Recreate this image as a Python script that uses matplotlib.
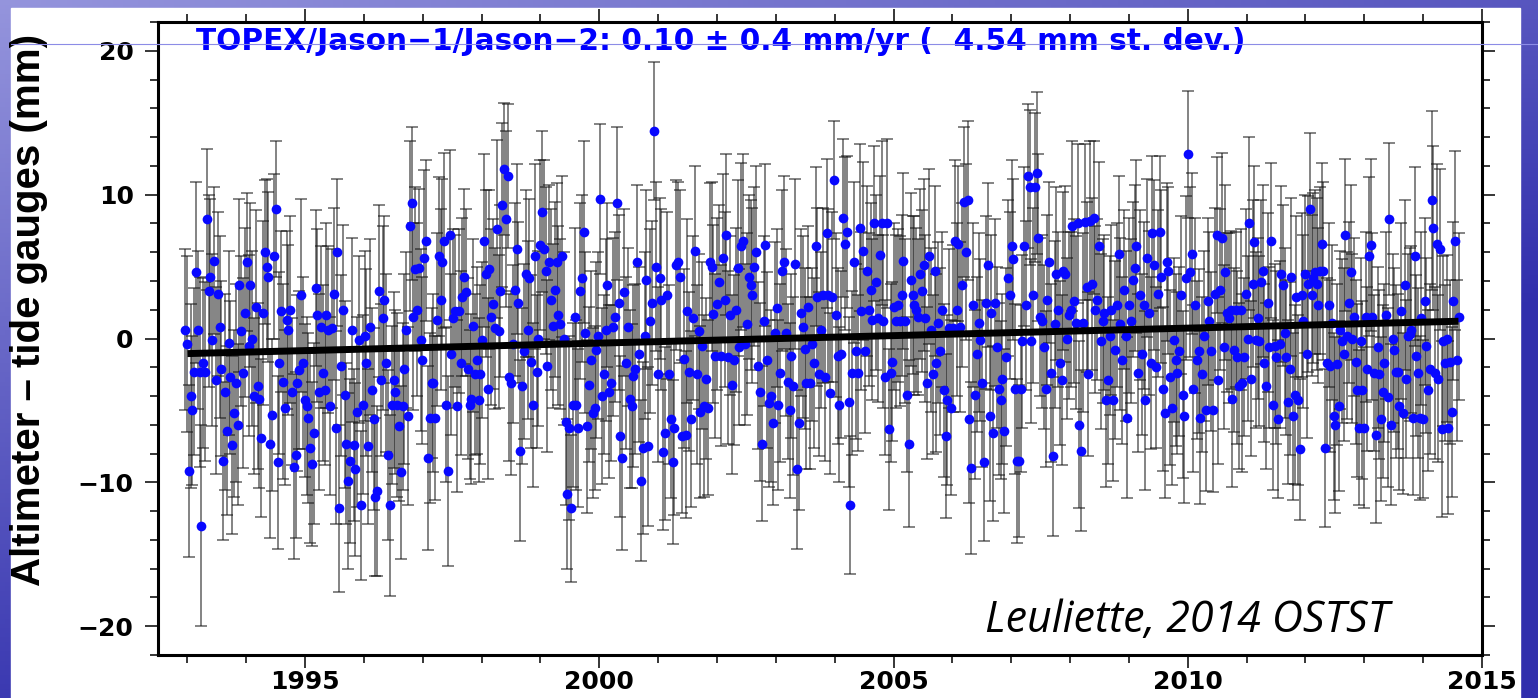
import numpy as np
import matplotlib
matplotlib.use('Agg')
import matplotlib.pyplot as plt
from matplotlib.patches import Rectangle
from matplotlib.lines import Line2D
from matplotlib.ticker import MultipleLocator

# altimeter minus tide gauge differences (mm) in six time blocks
seg_edges = [1992.96, 1996.41, 1999.98, 2003.55, 2007.13, 2010.70, 2014.63]

seg1_mm = [0.6, -0.4, -9.2, -4.0, -5.0, -2.3, 4.6, 0.6, -2.3, -13.0,
           -1.7, -2.3, 8.3, 3.3, 4.3, -0.1, 5.4, -2.9, 3.1, 0.8,
           -2.1, -8.5, -3.7, -6.4, -0.3, -2.7, -7.4, -5.2, -3.1, -6.0,
           3.7, 0.5, -2.4, 1.8, 5.3, -0.5, 3.7, 0.0, -4.0, 2.2,
           -3.3, -4.2, -6.9, 1.8, 6.0, 5.0, 4.3, -7.3, -5.3, 5.7,
           9.0, -8.6, -1.7, 1.9, -3.0, -4.8, 1.3, 0.6, 2.0, -3.7,
           -8.9, -8.1, -3.1, -2.2, 3.0, -1.7, -4.3, -4.7, -5.5, -7.6,
           -8.7, -6.6, 3.5, 1.6, -3.7, 0.8, -2.4, -3.6, 1.6, 0.6,
           -4.7, 0.7, 3.1, -6.2, 6.0, -11.8, -1.9, 2.0, -3.9, -7.3,
           -9.9, -8.5, 0.6, -7.4, -9.1, -5.1, -0.1, -11.6, -4.6, 0.2,
           -1.7, -7.5, 0.8, -3.6, -5.6, -11.0, -10.6, 3.3, -2.9, 1.4,
           2.7, -1.7]
seg2_mm = [-8.1, -11.6, -4.6, -2.9, -3.7, -4.6, -6.1, -9.3, -4.7, -2.1,
           0.6, -5.4, 7.8, 9.4, 1.5, 4.8, 2.0, 4.9, -0.1, -1.5,
           5.6, 6.8, -8.3, -5.5, -3.1, -3.1, -5.5, 1.3, 5.7, 2.7,
           5.3, 6.8, -4.6, -9.2, 7.2, -1.1, 1.4, 1.9, -4.7, 1.9,
           -1.7, 2.9, 4.3, 3.2, -2.1, -4.6, -4.2, 0.9, -2.5, -1.5,
           -4.3, -2.5, -0.1, 6.8, 4.5, -3.5, 4.8, 1.5, 2.4, 0.7,
           7.6, 0.5, 3.3, 9.3, 11.8, 8.3, 11.3, -2.7, -3.1, -0.4,
           3.4, 6.2, 2.5, -7.8, -3.3, -0.9, 4.5, 0.6, 4.2, -1.6,
           -4.6, 5.7, -2.3, 0.0, 6.5, 8.8, 6.2, 4.7, -1.9, 5.3,
           2.7, 0.9, 3.4, 5.3, 1.6, 1.0, 5.7, 0.0, -5.8, -10.8,
           -6.2, -11.8, -4.6, 1.5, -4.6, -6.2, 3.3, 4.2, 7.4, 0.4,
           -6.1, -3.2, -1.5, -5.2, -4.8, -0.8]
seg3_mm = [0.2, 9.7, -4.0, -2.5, 0.6, 3.7, -3.7, -3.1, 0.8, 1.5,
           9.4, 2.5, -6.8, -8.3, 3.2, -1.7, 0.8, -4.2, -4.7, -2.6,
           -2.1, 5.3, -1.1, -9.9, -7.6, 0.2, 4.1, -7.5, 1.2, 2.5,
           14.4, 5.0, -2.5, 4.2, 2.7, -7.9, -6.6, 3.0, -2.5, -5.6,
           -8.6, -6.2, 5.1, 5.3, 4.3, -6.8, -1.4, -6.7, 1.9, -2.3,
           -5.6, 1.4, 6.1, -2.5, 0.5, -5.1, -0.5, -4.7, -2.8, -4.8,
           5.3, 5.0, 1.7, -1.2, 2.4, 3.9, -1.2, 5.6, 2.7, 7.2,
           -1.3, 1.6, -3.2, -1.5, 2.0, 4.9, -0.6, 6.4, 6.8, -0.4,
           1.0, 4.3, 3.7, 3.0, 5.0, 6.0, -1.9, -3.7, -7.3, 1.2,
           6.5, -1.5, -4.5, -4.0, -5.9, 0.4, 2.1, -4.6, -2.4, 4.7,
           5.3, 0.4, -3.0, -5.0, -1.2, -3.3, 5.2, -9.1, -5.9, 1.8,
           0.8, -0.7, -3.1]
seg4_mm = [2.2, -3.1, -0.4, -1.7, 6.4, 2.9, -2.5, 0.6, 3.0, -2.7,
           7.3, 3.0, -3.8, 2.9, 11.0, 1.6, -1.2, -4.6, -1.1, 8.4,
           6.6, 7.4, -4.4, -11.6, -2.4, 5.3, -0.9, -2.4, 7.7, 1.9,
           6.1, -0.9, 4.7, 2.0, 3.4, 1.3, 8.0, 3.9, 1.4, 5.8,
           8.0, 1.2, -2.7, 8.0, -6.3, -2.4, -1.6, 2.2, 1.2, 2.3,
           1.2, 3.0, 5.4, 1.2, -3.9, -7.3, 4.1, 3.0, 2.3, 2.0,
           1.5, 4.5, 3.3, 5.1, 1.4, -3.1, 5.7, 0.6, -2.5, 4.7,
           -1.7, 1.1, -0.9, 2.0, -3.6, -6.8, -4.3, 0.7, -4.8, 0.7,
           6.8, 2.0, 6.6, 0.8, 3.7, 9.5, 6.0, 9.6, -5.6, -9.0,
           2.3, -3.9, -1.1, 1.1, -0.1, -3.1, -8.6, 2.5, 5.1, -5.4,
           1.8, -6.6, 2.5, -0.6, -3.5, -4.3, -2.8, -6.4, -1.3, 4.2,
           3.0, 6.4, 5.5, -3.5, -8.5]
seg5_mm = [-8.5, -3.5, -0.2, 6.4, 2.3, 11.3, 10.5, -0.2, 3.0, 10.5,
           11.5, 7.0, 1.5, 1.2, -0.6, -3.5, 2.7, 5.3, -2.4, -8.2,
           1.0, 4.5, 2.0, -1.7, -2.9, 4.7, 4.5, 0.0, 1.6, 2.0,
           7.8, 2.6, 1.1, 8.0, -6.0, -7.8, 1.1, 8.1, 3.6, -2.5,
           8.2, 3.8, 8.4, 2.0, 2.7, 6.4, -0.2, 1.2, 1.8, -4.3,
           -2.9, 0.2, 2.0, -4.3, -0.8, 2.3, 5.9, 1.0, -1.5, 3.4,
           0.2, -5.5, 2.3, 1.2, 4.1, 4.9, 6.4, -2.4, 3.0, -1.1,
           2.3, -4.3, 5.6, 1.8, -1.7, 7.3, 5.1, -2.0, 3.1, 7.4,
           4.3, -3.5, -5.2, 5.3, 4.7, -2.7, -4.8, -0.1, -1.5, -2.4,
           -0.9, 3.0, -3.9, -5.4, 4.2, 12.8, 4.6, 5.9, -3.5, 2.3,
           -1.5, -0.9, -5.5, -2.5, 0.2, -5.0, 2.6, 1.2, -0.9, -5.0,
           3.1, 7.2, -2.9, 3.4, 7.0, -0.6, 4.6, 1.8]
seg6_mm = [1.4, 2.0, -4.2, -0.8, 2.0, -1.3, -3.3, 2.0, -3.1, -1.3,
           3.1, 0.0, 8.0, -2.8, 3.8, 6.7, -0.1, 1.4, -0.2, 3.9,
           4.7, -1.7, -3.3, 2.5, -0.6, 6.8, -4.6, -0.5, -1.3, -5.6,
           -0.4, 4.5, 3.7, 0.4, -1.3, -4.4, -2.1, 4.3, -5.4, -3.9,
           2.9, -4.3, -7.7, 3.0, 1.2, 4.5, -1.1, 3.8, 9.0, 3.0,
           4.2, 4.6, 3.8, 2.3, 4.7, 6.6, 4.7, -7.6, -1.7, 2.3,
           -1.9, 1.1, -5.4, -6.0, -1.8, -4.7, 0.6, -0.2, -1.1, 7.2,
           0.2, 2.5, 4.6, 0.0, 1.5, -1.6, -3.6, -6.2, -0.2, -3.6,
           -6.2, 1.5, -2.1, 5.7, 6.5, 1.5, -2.4, -6.7, -0.6, -2.5,
           -5.6, -3.7, -1.7, 1.6, -4.1, 8.3, -6.0, 0.0, -0.8, -2.3,
           -2.3, -4.7, 1.9, -5.2, 3.7, -2.8, 0.2, 0.3, 0.6, -5.5,
           5.7, -1.2, -2.4, -5.5, 1.4, -5.6, 2.6, -0.5, -3.6, -2.1,
           9.6, 7.7, -2.4, 6.6, -2.8, 6.2, -6.3, -0.2, -1.7, 0.0,
           -6.2, -1.6, -5.1, 2.6, 6.8, -1.5, 1.5]

# half-length of the error bars (mm)
seg1_err = [5.6, 6.1, 6.0, 6.4, 5.2, 5.8, 6.3, 5.5, 6.6, 7.0,
            5.9, 6.2, 4.9, 6.7, 5.4, 6.0, 5.1, 6.5, 5.7, 6.3,
            6.1, 5.5, 6.8, 5.9, 6.4, 5.3, 6.2, 5.8, 6.9, 5.6,
            6.0, 5.2, 6.6, 5.9, 4.8, 6.3, 5.7, 6.1, 5.4, 6.7,
            5.8, 6.2, 5.5, 6.4, 5.0, 6.1, 5.9, 6.6, 5.3, 5.7,
            4.7, 6.0, 6.3, 5.6, 6.8, 5.4, 6.2, 5.9, 6.5, 5.1,
            6.4, 5.8, 6.1, 5.5, 6.7, 6.0, 5.3, 6.2, 5.9, 6.6,
            5.7, 6.3, 5.4, 6.0, 6.8, 5.6, 6.1, 5.2, 6.4, 5.8,
            6.2, 5.5, 6.0, 6.7, 5.1, 5.8, 6.3, 5.9, 6.5, 5.6,
            6.1, 5.7, 6.4, 5.3, 6.0, 6.6, 5.8, 5.2, 6.2, 5.9,
            6.5, 5.4, 6.1, 5.7, 6.3, 5.5, 5.9, 6.0, 5.3, 6.4,
            5.8, 6.2]
seg2_err = [5.9, 6.3, 5.5, 6.1, 5.7, 6.4, 5.2, 6.0, 5.8, 6.6,
            5.4, 6.2, 5.9, 5.3, 6.5, 5.7, 6.0, 5.5, 6.3, 5.8,
            6.1, 5.6, 6.4, 5.9, 5.2, 6.2, 5.7, 6.0, 5.5, 6.3,
            5.8, 6.1, 5.4, 6.6, 5.9, 5.6, 6.2, 5.3, 6.0, 5.7,
            6.4, 5.5, 6.1, 5.8, 6.3, 5.2, 5.9, 6.0, 5.6, 6.5,
            5.7, 6.2, 5.4, 6.0, 5.8, 6.3, 5.5, 6.1, 5.9, 5.6,
            6.2, 5.3, 6.0, 5.7, 4.6, 6.1, 5.0, 5.8, 6.4, 5.5,
            6.0, 5.9, 5.6, 6.3, 5.4, 6.1, 5.8, 6.2, 5.5, 6.0,
            5.7, 6.4, 5.3, 6.1, 5.9, 5.6, 6.2, 5.8, 6.0, 5.4,
            6.3, 5.7, 6.1, 5.5, 6.2, 5.9, 5.6, 6.0, 5.8, 5.2,
            6.4, 5.1, 5.7, 6.2, 5.9, 5.5, 6.1, 5.8, 6.3, 5.6,
            6.0, 5.4, 6.2, 5.9, 5.7, 6.1]
seg3_err = [5.8, 5.2, 6.1, 5.5, 6.3, 5.7, 6.0, 5.4, 6.2, 5.9,
            5.3, 6.1, 5.6, 6.4, 5.8, 6.0, 5.5, 6.2, 5.7, 6.3,
            5.9, 5.4, 6.1, 5.6, 6.0, 5.8, 6.2, 5.5, 6.4, 5.7,
            4.8, 5.9, 6.1, 5.6, 6.3, 5.4, 6.0, 5.8, 6.2, 5.5,
            5.7, 6.1, 5.9, 5.6, 6.0, 5.3, 6.2, 5.8, 6.4, 5.5,
            6.1, 5.7, 5.9, 6.2, 5.4, 6.0, 5.8, 6.3, 5.6, 6.1,
            5.5, 5.9, 6.2, 5.7, 6.0, 5.4, 6.3, 5.8, 6.1, 5.6,
            6.0, 5.5, 6.2, 5.9, 5.7, 6.1, 5.4, 5.8, 6.0, 5.6,
            6.3, 5.7, 5.9, 6.1, 5.5, 6.0, 5.8, 6.2, 5.4, 5.9,
            5.6, 6.1, 5.8, 6.0, 5.7, 6.3, 5.5, 5.9, 6.2, 5.6,
            6.0, 5.8, 5.4, 6.1, 5.7, 6.2, 5.9, 5.5, 6.0, 5.8,
            6.3, 5.6, 6.0]
seg4_err = [5.6, 6.0, 5.3, 5.9, 5.5, 6.2, 5.7, 5.4, 6.1, 5.8,
            5.2, 6.0, 5.6, 5.9, 4.1, 5.7, 6.1, 5.4, 5.8, 5.5,
            6.0, 5.3, 5.9, 4.8, 5.7, 5.6, 6.1, 5.4, 5.8, 5.5,
            6.2, 5.7, 5.9, 5.3, 6.0, 5.6, 5.4, 6.1, 5.8, 5.5,
            5.7, 6.0, 5.4, 5.9, 5.6, 6.2, 5.5, 5.8, 6.0, 5.3,
            5.9, 5.6, 6.1, 5.7, 5.4, 5.8, 6.0, 5.5, 6.2, 5.7,
            5.4, 5.9, 5.6, 6.0, 5.8, 5.3, 6.1, 5.7, 5.5, 5.9,
            6.2, 5.6, 5.8, 5.4, 6.0, 5.7, 5.9, 5.5, 6.1, 5.8,
            5.6, 6.0, 5.4, 5.9, 5.7, 5.2, 6.1, 5.5, 5.8, 6.0,
            5.7, 5.9, 5.4, 6.2, 5.6, 5.8, 5.5, 6.0, 5.7, 5.9,
            5.4, 6.1, 5.8, 5.6, 6.0, 5.5, 5.9, 5.7, 6.2, 5.4,
            5.8, 6.0, 5.6, 5.9, 5.7]
seg5_err = [5.3, 5.8, 6.0, 5.5, 5.9, 5.0, 5.4, 5.7, 6.1, 5.2,
            5.6, 5.8, 5.5, 6.0, 5.7, 5.4, 5.9, 5.6, 6.2, 5.5,
            5.8, 6.0, 5.4, 5.7, 5.9, 5.5, 6.1, 5.6, 5.8, 5.4,
            5.9, 5.7, 6.0, 5.5, 5.8, 5.6, 6.2, 5.4, 5.9, 5.7,
            5.5, 6.0, 5.3, 5.8, 5.6, 5.9, 6.1, 5.7, 5.4, 6.0,
            5.8, 5.5, 5.9, 5.6, 6.2, 5.7, 5.4, 6.0, 5.8, 5.5,
            5.9, 5.6, 6.1, 5.7, 5.4, 5.8, 6.0, 5.5, 5.9, 5.6,
            5.8, 6.2, 5.5, 5.7, 6.0, 5.4, 5.9, 5.6, 5.8, 5.3,
            6.0, 5.7, 5.9, 5.5, 5.8, 6.1, 5.4, 5.7, 6.0, 5.6,
            5.9, 5.5, 5.8, 6.0, 5.7, 4.4, 5.9, 5.6, 5.8, 6.1,
            5.5, 5.7, 6.0, 5.4, 5.9, 5.6, 5.8, 6.2, 5.5, 5.7,
            6.0, 5.4, 5.8, 5.6, 5.9, 5.7, 6.1, 5.5]
seg6_err = [5.9, 5.5, 6.1, 5.7, 5.4, 6.0, 5.8, 5.6, 6.2, 5.5,
            5.9, 5.7, 6.0, 5.4, 5.8, 5.3, 6.1, 5.6, 5.9, 5.7,
            6.0, 5.5, 5.8, 6.2, 5.6, 5.4, 5.9, 5.7, 6.0, 5.5,
            5.8, 6.1, 5.6, 5.9, 5.4, 5.7, 6.0, 5.5, 5.8, 6.2,
            5.6, 5.9, 4.9, 5.7, 6.0, 5.5, 5.8, 6.1, 5.3, 5.6,
            5.9, 5.7, 6.0, 5.4, 5.8, 5.6, 6.2, 5.5, 5.9, 5.7,
            6.0, 5.4, 5.8, 6.1, 5.6, 5.9, 5.5, 5.7, 6.0, 5.3,
            5.8, 5.6, 6.1, 5.9, 5.5, 5.7, 6.0, 5.4, 5.8, 6.2,
            5.6, 5.9, 5.7, 5.5, 6.0, 5.8, 5.4, 6.1, 5.6, 5.9,
            5.7, 6.0, 5.5, 5.8, 6.2, 5.3, 5.6, 5.9, 5.7, 6.0,
            5.4, 5.8, 6.1, 5.6, 5.9, 5.5, 5.7, 6.0, 5.8, 5.4,
            6.2, 5.6, 5.9, 5.7, 6.0, 5.5, 5.8, 6.1, 5.6, 5.9,
            6.2, 5.7, 6.0, 5.5, 5.8, 5.6, 6.1, 5.9, 5.4, 5.8,
            6.0, 5.7, 5.9, 5.5, 6.2, 5.6, 5.8]

# fitted trend (0.10 mm/yr)
trend_years = [1993.0, 2014.6]
trend_mm = [-1.05, 1.2]

year_ticks = [1995, 2000, 2005, 2010, 2015]
mm_ticks = [-20, -10, 0, 10, 20]
title_txt = 'TOPEX/Jason\u22121/Jason\u22122: 0.10 \u00b1 0.4 mm/yr (  4.54 mm st. dev.)'
ylabel_txt = 'Altimeter \u2013 tide gauges (mm)'
credit_txt = 'Leuliette, 2014 OSTST'

segs = [seg1_mm, seg2_mm, seg3_mm, seg4_mm, seg5_mm, seg6_mm]
seg_errs = [seg1_err, seg2_err, seg3_err, seg4_err, seg5_err, seg6_err]
years, vals, errs = [], [], []
for k in range(len(segs)):
    n = len(segs[k])
    step = (seg_edges[k + 1] - seg_edges[k]) / n
    years.append(seg_edges[k] + step * np.arange(n))
    vals.append(np.array(segs[k]))
    errs.append(np.array(seg_errs[k]))
years = np.concatenate(years)
vals = np.concatenate(vals)
errs = np.concatenate(errs)

W, H = 1538, 698
fig = plt.figure(figsize=(W / 100, H / 100), dpi=100)

# slide background: blue gradient with the white picture on it
bg = fig.add_axes([0, 0, 1, 1], zorder=-10)
gy, gx = np.mgrid[0:1:150j, 0:1:300j]
s = np.clip(0.55 * gx + 0.8 * gy + 0.1, 0, 1)[..., None]
light = np.array([160, 160, 226]) / 255
dark = np.array([48, 46, 172]) / 255
bg.imshow(light * (1 - s) + dark * s, aspect='auto', extent=[0, 1, 0, 1], origin='upper')
bg.add_patch(Rectangle((11 / W, 0), (1520 - 11) / W, 1 - 8 / H, color='white'))
bg.set_xlim(0, 1)
bg.set_ylim(0, 1)
bg.axis('off')

ax = fig.add_axes([158 / W, 1 - 655 / H, (1482 - 158) / W, (655 - 22) / H])
ax.set_facecolor('white')
ax.errorbar(years, vals, yerr=errs, fmt='none', ecolor='#151515', elinewidth=1.2,
            capsize=4, capthick=1.2, alpha=0.62, zorder=2)
ax.plot(years, vals, 'o', color='#0808ff', ms=7, mec='none', zorder=3)
ax.plot(trend_years, trend_mm, color='black', lw=5, solid_capstyle='butt', zorder=4)

ax.set_xlim(1992.5, 2015)
ax.set_ylim(-22, 22)
ax.set_xticks(year_ticks)
ax.set_yticks(mm_ticks)
ax.xaxis.set_minor_locator(MultipleLocator(1))
ax.yaxis.set_minor_locator(MultipleLocator(2))
ax.tick_params(which='both', direction='out', top=True, right=True,
               labeltop=False, labelright=False, width=1.1, color='black')
ax.tick_params(which='major', length=9.5)
ax.tick_params(which='minor', length=5.5)
ax.tick_params(axis='x', which='major', pad=1)
ax.tick_params(axis='y', which='major', pad=8)
for lbl in ax.get_xticklabels() + ax.get_yticklabels():
    lbl.set_family('DejaVu Sans')
    lbl.set_fontweight('bold')
    lbl.set_fontsize(18)
for sp in ax.spines.values():
    sp.set_linewidth(2.2)

fig.text(196 / W, 1 - 42 / H, title_txt, color='#0000ff', fontsize=21.3,
         fontweight='bold', family='DejaVu Sans', ha='left', va='center')
fig.text(29 / W, 1 - 310 / H, ylabel_txt, rotation=90, fontsize=29,
         fontweight='bold', family='Liberation Sans', ha='center', va='center')
fig.text(985 / W, 1 - 632 / H, credit_txt, fontsize=31, style='italic',
         family='Open Sans', ha='left', va='baseline')

# thin decorative rule across the slide
fig.add_artist(Line2D([11 / W, 1], [1 - 44 / H, 1 - 44 / H], color='#8c8ce6', lw=0.8, zorder=20))

fig.savefig('out.png', dpi=100)
